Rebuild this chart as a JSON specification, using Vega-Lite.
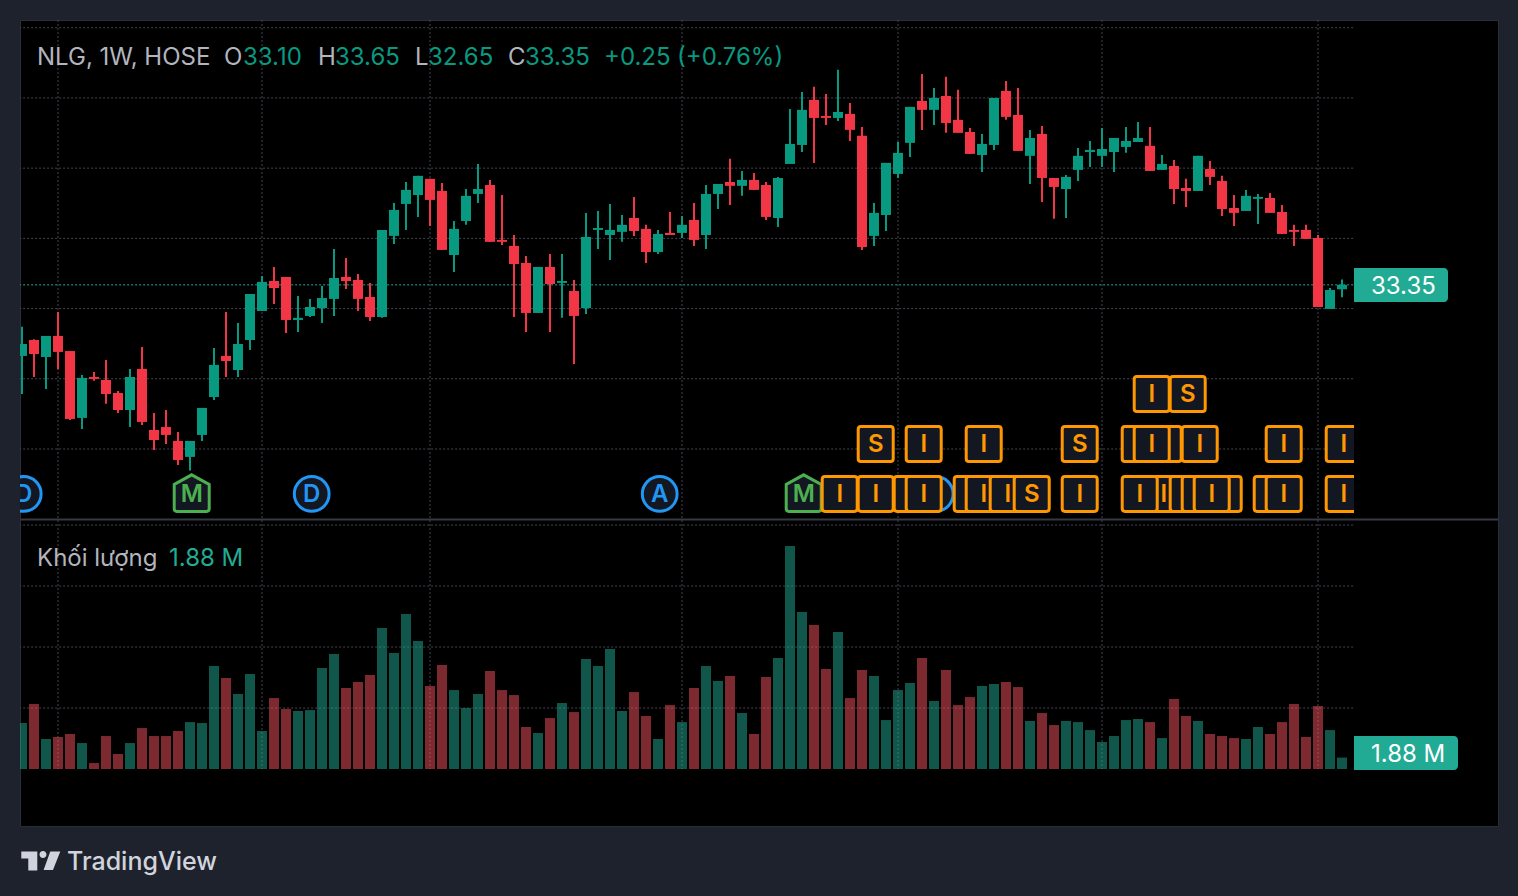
{
"$schema":"https://vega.github.io/schema/vega-lite/v6.json",
"width":1478,"height":806,
"autosize":"none",
"padding":{"left":20,"top":20,"right":20,"bottom":70},
"background":"#1e222d",
"view":{"fill":"#000000","stroke":"#2a2e39"},
"config":{"font":"Inter","text":{"font":"Inter"},"axis":{"labelFont":"Inter"}},
"datasets":{
"weeks":[
{"date":"2022-12-12","o":29.30,"h":30.97,"l":27.13,"c":29.98,"v":7.54},
{"date":"2022-12-19","o":30.21,"h":30.25,"l":28.10,"c":29.41,"v":10.66},
{"date":"2022-12-26","o":29.24,"h":30.44,"l":27.42,"c":30.44,"v":4.92},
{"date":"2023-01-02","o":30.44,"h":31.81,"l":28.54,"c":29.53,"v":5.25},
{"date":"2023-01-09","o":29.58,"h":29.58,"l":25.65,"c":25.71,"v":5.74},
{"date":"2023-01-16","o":25.77,"h":28.22,"l":25.14,"c":28.05,"v":4.26},
{"date":"2023-01-23","o":28.10,"h":28.39,"l":27.88,"c":27.99,"v":0.98},
{"date":"2023-01-30","o":27.93,"h":29.07,"l":26.57,"c":27.13,"v":5.41},
{"date":"2023-02-06","o":27.19,"h":27.30,"l":26.05,"c":26.22,"v":2.46},
{"date":"2023-02-13","o":26.22,"h":28.56,"l":25.25,"c":28.10,"v":4.26},
{"date":"2023-02-20","o":28.56,"h":29.81,"l":25.37,"c":25.54,"v":6.72},
{"date":"2023-02-27","o":25.08,"h":26.05,"l":23.94,"c":24.51,"v":5.41},
{"date":"2023-03-06","o":25.25,"h":26.22,"l":24.29,"c":24.80,"v":5.41},
{"date":"2023-03-13","o":24.46,"h":24.97,"l":23.09,"c":23.37,"v":6.23},
{"date":"2023-03-20","o":23.55,"h":24.46,"l":22.77,"c":24.46,"v":7.70},
{"date":"2023-03-27","o":24.80,"h":26.34,"l":24.46,"c":26.34,"v":7.54},
{"date":"2023-04-03","o":26.96,"h":29.75,"l":26.79,"c":28.79,"v":16.89},
{"date":"2023-04-10","o":29.30,"h":31.81,"l":28.10,"c":29.01,"v":14.92},
{"date":"2023-04-17","o":28.50,"h":31.18,"l":28.10,"c":29.98,"v":12.30},
{"date":"2023-04-24","o":30.21,"h":32.83,"l":29.64,"c":32.83,"v":15.57},
{"date":"2023-05-01","o":31.86,"h":33.86,"l":31.86,"c":33.52,"v":6.23},
{"date":"2023-05-08","o":33.57,"h":34.37,"l":32.26,"c":33.17,"v":11.64},
{"date":"2023-05-15","o":33.80,"h":33.80,"l":30.61,"c":31.35,"v":9.84},
{"date":"2023-05-22","o":31.35,"h":32.72,"l":30.67,"c":31.47,"v":9.51},
{"date":"2023-05-29","o":31.58,"h":32.55,"l":31.52,"c":32.09,"v":9.67},
{"date":"2023-06-05","o":32.03,"h":33.29,"l":31.18,"c":32.60,"v":16.56},
{"date":"2023-06-12","o":32.55,"h":35.40,"l":31.58,"c":33.74,"v":18.85},
{"date":"2023-06-19","o":33.80,"h":34.88,"l":33.12,"c":33.57,"v":13.28},
{"date":"2023-06-26","o":33.63,"h":33.97,"l":31.86,"c":32.55,"v":14.26},
{"date":"2023-07-03","o":32.66,"h":33.46,"l":31.29,"c":31.52,"v":15.41},
{"date":"2023-07-10","o":31.52,"h":36.48,"l":31.47,"c":36.48,"v":23.11},
{"date":"2023-07-17","o":36.14,"h":38.01,"l":35.68,"c":37.62,"v":19.02},
{"date":"2023-07-24","o":37.96,"h":39.21,"l":36.48,"c":38.76,"v":25.41},
{"date":"2023-07-31","o":38.47,"h":39.56,"l":37.22,"c":39.56,"v":20.98},
{"date":"2023-08-07","o":39.39,"h":39.39,"l":36.71,"c":38.19,"v":13.61},
{"date":"2023-08-14","o":38.70,"h":39.16,"l":35.34,"c":35.34,"v":17.05},
{"date":"2023-08-21","o":35.05,"h":36.99,"l":34.09,"c":36.54,"v":12.95},
{"date":"2023-08-28","o":36.99,"h":38.81,"l":36.77,"c":38.42,"v":10.00},
{"date":"2023-09-04","o":38.53,"h":40.24,"l":38.01,"c":38.81,"v":12.30},
{"date":"2023-09-11","o":39.04,"h":39.33,"l":35.80,"c":35.80,"v":16.07},
{"date":"2023-09-18","o":35.91,"h":38.47,"l":35.62,"c":35.80,"v":12.95},
{"date":"2023-09-25","o":35.57,"h":36.19,"l":31.52,"c":34.54,"v":12.13},
{"date":"2023-10-02","o":34.60,"h":35.00,"l":30.67,"c":31.75,"v":6.89},
{"date":"2023-10-09","o":31.75,"h":34.37,"l":31.75,"c":34.37,"v":5.90},
{"date":"2023-10-16","o":34.37,"h":35.11,"l":30.67,"c":33.40,"v":8.36},
{"date":"2023-10-23","o":33.46,"h":35.11,"l":31.47,"c":33.57,"v":10.82},
{"date":"2023-10-30","o":33.00,"h":33.63,"l":28.84,"c":31.58,"v":9.34},
{"date":"2023-11-06","o":32.03,"h":37.45,"l":31.69,"c":36.08,"v":18.03},
{"date":"2023-11-13","o":36.48,"h":37.56,"l":35.40,"c":36.59,"v":16.89},
{"date":"2023-11-20","o":36.19,"h":37.96,"l":34.77,"c":36.48,"v":19.67},
{"date":"2023-11-27","o":36.37,"h":37.33,"l":35.80,"c":36.77,"v":9.51},
{"date":"2023-12-04","o":37.16,"h":38.36,"l":36.14,"c":36.42,"v":12.62},
{"date":"2023-12-11","o":36.54,"h":36.77,"l":34.60,"c":35.22,"v":8.69},
{"date":"2023-12-18","o":35.22,"h":36.48,"l":35.11,"c":36.25,"v":4.92},
{"date":"2023-12-25","o":36.31,"h":37.50,"l":36.19,"c":36.19,"v":10.49},
{"date":"2024-01-01","o":36.31,"h":37.28,"l":36.02,"c":36.77,"v":7.70},
{"date":"2024-01-08","o":37.05,"h":38.01,"l":35.57,"c":35.91,"v":13.28},
{"date":"2024-01-15","o":36.19,"h":39.04,"l":35.40,"c":38.53,"v":16.89},
{"date":"2024-01-22","o":38.53,"h":39.10,"l":37.67,"c":39.10,"v":14.43},
{"date":"2024-01-29","o":39.21,"h":40.53,"l":37.90,"c":38.99,"v":15.25},
{"date":"2024-02-05","o":38.99,"h":39.84,"l":38.42,"c":39.33,"v":9.18},
{"date":"2024-02-12","o":39.33,"h":39.73,"l":38.76,"c":38.76,"v":5.74},
{"date":"2024-02-19","o":39.04,"h":39.21,"l":37.05,"c":37.22,"v":15.08},
{"date":"2024-02-26","o":37.16,"h":39.50,"l":36.65,"c":39.44,"v":18.20},
{"date":"2024-03-04","o":40.24,"h":43.37,"l":40.24,"c":41.38,"v":36.56},
{"date":"2024-03-11","o":41.32,"h":44.34,"l":40.92,"c":43.32,"v":25.74},
{"date":"2024-03-18","o":43.89,"h":44.63,"l":40.30,"c":42.86,"v":23.61},
{"date":"2024-03-25","o":42.97,"h":44.23,"l":42.46,"c":42.86,"v":16.39},
{"date":"2024-04-01","o":42.86,"h":45.60,"l":42.69,"c":43.20,"v":22.46},
{"date":"2024-04-08","o":43.09,"h":43.71,"l":41.55,"c":42.18,"v":11.64},
{"date":"2024-04-15","o":41.84,"h":42.35,"l":35.34,"c":35.51,"v":16.23},
{"date":"2024-04-22","o":36.14,"h":38.01,"l":35.57,"c":37.45,"v":15.25},
{"date":"2024-04-29","o":37.33,"h":40.30,"l":36.42,"c":40.30,"v":8.03},
{"date":"2024-05-06","o":39.67,"h":41.49,"l":39.44,"c":40.87,"v":12.95},
{"date":"2024-05-13","o":41.44,"h":43.49,"l":40.64,"c":43.49,"v":14.10},
{"date":"2024-05-20","o":43.83,"h":45.37,"l":42.18,"c":43.32,"v":18.20},
{"date":"2024-05-27","o":43.32,"h":44.57,"l":42.46,"c":44.00,"v":11.15},
{"date":"2024-06-03","o":44.11,"h":45.20,"l":42.01,"c":42.57,"v":16.23},
{"date":"2024-06-10","o":42.75,"h":44.46,"l":42.01,"c":42.01,"v":10.49},
{"date":"2024-06-17","o":42.06,"h":42.29,"l":40.81,"c":40.81,"v":11.80},
{"date":"2024-06-24","o":40.75,"h":41.95,"l":39.78,"c":41.38,"v":13.61},
{"date":"2024-07-01","o":41.32,"h":44.00,"l":41.04,"c":44.00,"v":13.93},
{"date":"2024-07-08","o":44.40,"h":44.97,"l":42.75,"c":42.92,"v":14.26},
{"date":"2024-07-15","o":43.03,"h":44.57,"l":40.98,"c":40.98,"v":13.44},
{"date":"2024-07-22","o":40.70,"h":42.18,"l":39.10,"c":41.72,"v":7.87},
{"date":"2024-07-29","o":41.95,"h":42.40,"l":38.07,"c":39.44,"v":9.18},
{"date":"2024-08-05","o":39.44,"h":39.44,"l":37.11,"c":38.93,"v":7.21},
{"date":"2024-08-12","o":38.81,"h":39.61,"l":37.16,"c":39.50,"v":7.87},
{"date":"2024-08-19","o":39.90,"h":41.15,"l":39.27,"c":40.70,"v":7.70},
{"date":"2024-08-26","o":40.92,"h":41.55,"l":40.07,"c":41.04,"v":6.39},
{"date":"2024-09-02","o":40.70,"h":42.29,"l":40.07,"c":41.09,"v":4.43},
{"date":"2024-09-09","o":40.92,"h":41.72,"l":39.78,"c":41.72,"v":5.41},
{"date":"2024-09-16","o":41.21,"h":42.35,"l":40.87,"c":41.55,"v":8.03},
{"date":"2024-09-23","o":41.49,"h":42.63,"l":41.49,"c":41.72,"v":8.20},
{"date":"2024-09-30","o":41.27,"h":42.35,"l":39.84,"c":39.84,"v":7.70},
{"date":"2024-10-07","o":39.90,"h":40.75,"l":39.90,"c":40.24,"v":5.08},
{"date":"2024-10-14","o":40.12,"h":40.47,"l":37.96,"c":38.81,"v":11.48},
{"date":"2024-10-21","o":38.87,"h":39.39,"l":37.79,"c":38.70,"v":8.69},
{"date":"2024-10-28","o":38.70,"h":40.70,"l":38.70,"c":40.70,"v":7.87},
{"date":"2024-11-04","o":39.95,"h":40.41,"l":39.04,"c":39.50,"v":5.74},
{"date":"2024-11-11","o":39.27,"h":39.56,"l":37.28,"c":37.67,"v":5.41},
{"date":"2024-11-18","o":37.73,"h":38.47,"l":36.71,"c":37.45,"v":5.08},
{"date":"2024-11-25","o":37.56,"h":38.76,"l":37.56,"c":38.42,"v":4.92},
{"date":"2024-12-02","o":38.25,"h":38.53,"l":36.82,"c":38.36,"v":6.89},
{"date":"2024-12-09","o":38.30,"h":38.59,"l":37.45,"c":37.45,"v":5.74},
{"date":"2024-12-16","o":37.50,"h":37.90,"l":36.25,"c":36.25,"v":7.70},
{"date":"2024-12-23","o":36.48,"h":36.77,"l":35.57,"c":36.37,"v":10.66},
{"date":"2024-12-30","o":36.48,"h":36.77,"l":35.97,"c":35.97,"v":5.25},
{"date":"2025-01-06","o":36.02,"h":36.19,"l":32.09,"c":32.09,"v":10.33},
{"date":"2025-01-13","o":31.98,"h":33.17,"l":31.98,"c":33.06,"v":6.39},
{"date":"2025-01-20","o":33.10,"h":33.65,"l":32.65,"c":33.35,"v":1.88}
],
"events":[
{"date":"2022-12-13","level":21.44,"label":"D","front":true},
{"date":"2023-03-21","level":21.44,"label":"M","front":true},
{"date":"2023-05-30","level":21.44,"label":"D","front":true},
{"date":"2023-12-19","level":21.44,"label":"A","front":true},
{"date":"2024-03-12","level":21.44,"label":"M","front":true},
{"date":"2024-05-28","level":21.44,"label":"D","front":false},
{"date":"2024-04-02","level":21.44,"label":"I","front":true},
{"date":"2024-04-23","level":21.44,"label":"I","front":true},
{"date":"2024-05-14","level":21.44,"label":"I","front":false},
{"date":"2024-05-21","level":21.44,"label":"I","front":true},
{"date":"2024-06-18","level":21.44,"label":"I","front":false},
{"date":"2024-06-25","level":21.44,"label":"I","front":true},
{"date":"2024-07-09","level":21.44,"label":"I","front":true},
{"date":"2024-07-23","level":21.44,"label":"S","front":true},
{"date":"2024-08-20","level":21.44,"label":"I","front":true},
{"date":"2024-10-08","level":21.44,"label":"I","front":true},
{"date":"2024-09-24","level":21.44,"label":"I","front":true},
{"date":"2024-10-22","level":21.44,"label":"I","front":false},
{"date":"2024-11-12","level":21.44,"label":"I","front":false},
{"date":"2024-10-29","level":21.44,"label":"I","front":false},
{"date":"2024-11-05","level":21.44,"label":"I","front":true},
{"date":"2024-12-10","level":21.44,"label":"I","front":false},
{"date":"2024-12-17","level":21.44,"label":"I","front":true},
{"date":"2025-01-21","level":21.44,"label":"I","front":true},
{"date":"2024-04-23","level":24.28,"label":"S","front":true},
{"date":"2024-05-21","level":24.28,"label":"I","front":true},
{"date":"2024-06-25","level":24.28,"label":"I","front":true},
{"date":"2024-08-20","level":24.28,"label":"S","front":true},
{"date":"2024-09-24","level":24.28,"label":"I","front":false},
{"date":"2024-10-08","level":24.28,"label":"I","front":false},
{"date":"2024-10-01","level":24.28,"label":"I","front":true},
{"date":"2024-10-29","level":24.28,"label":"I","front":true},
{"date":"2024-12-17","level":24.28,"label":"I","front":true},
{"date":"2025-01-21","level":24.28,"label":"I","front":true},
{"date":"2024-10-01","level":27.13,"label":"I","front":true},
{"date":"2024-10-22","level":27.13,"label":"S","front":true}
],
"notes":[
{"date":"2022-12-20T18:00:00Z","level":46.39,"text":"NLG, 1W, HOSE","tone":"muted"},
{"date":"2023-04-08T20:00:00Z","level":46.39,"text":"O","tone":"muted"},
{"date":"2023-04-19T22:00:00Z","level":46.39,"text":"33.10","tone":"up"},
{"date":"2023-06-02T16:00:00Z","level":46.39,"text":"H","tone":"muted"},
{"date":"2023-06-12T14:00:00Z","level":46.39,"text":"33.65","tone":"up"},
{"date":"2023-07-29T06:00:00Z","level":46.39,"text":"L","tone":"muted"},
{"date":"2023-08-05T20:00:00Z","level":46.39,"text":"32.65","tone":"up"},
{"date":"2023-09-21T12:00:00Z","level":46.39,"text":"C","tone":"muted"},
{"date":"2023-10-01T10:00:00Z","level":46.39,"text":"33.35","tone":"up"},
{"date":"2023-11-16T12:00:00Z","level":46.39,"text":"+0.25","tone":"up"},
{"date":"2023-12-29T02:00:00Z","level":46.39,"text":"(+0.76%)","tone":"up"},
{"date":"2022-12-20T18:00:00Z","level":17.85,"text":"Khối lượng","tone":"muted"},
{"date":"2023-03-07T18:00:00Z","level":17.85,"text":"1.88 M","tone":"vol"}
],
"priceTicks":[{"price":24},{"price":28},{"price":32},{"price":36},{"price":40},{"price":44},{"price":48}],
"volumeTicks":[{"vol":10},{"vol":20},{"vol":30},{"vol":40}],
"timeTicks":[{"date":"2023-01-02"},{"date":"2023-05-01"},{"date":"2023-08-07"},{"date":"2024-01-01"},{"date":"2024-05-06"},{"date":"2024-09-02"},{"date":"2025-01-06"}],
"last":[{"price":33.35,"vol":1.88,"priceText":"33.35","volText":"1.88 M"}]
},
"resolve":{"scale":{"y":"independent"}},
"layer":[
{"layer":[
 {"data":{"name":"priceTicks"},"mark":{"type":"rule","clip":true,"color":"#434651","strokeWidth":1,"strokeDash":[2,2]},
  "encoding":{
   "x":{"datum":{"year":2022,"month":12,"date":1,"utc":true},"type":"temporal","axis":null},
   "x2":{"datum":{"year":2025,"month":1,"date":27,"utc":true}},
   "y":{"field":"price","type":"quantitative","scale":{"domain":[2.52,48.44],"nice":false,"zero":false},
    "axis":{"orient":"right","offset":-144,"values":[24,28,32,36,40,44,48],"format":".2f","title":null,"domain":true,"domainOpacity":0,"ticks":true,"tickOpacity":0,"tickSize":0,"grid":false,"labelPadding":16,"labelAlign":"left","labelBaseline":"middle","labelOffset":2,"labelColor":"#b2b5be","labelFontSize":24,"labelBound":false,"labelFlush":false,"labelOverlap":false}}}},
 {"data":{"name":"timeTicks"},"mark":{"type":"rule","color":"#434651","strokeWidth":1,"strokeDash":[2,2]},
  "encoding":{
   "x":{"field":"date","type":"temporal","scale":{"type":"utc","domain":["2022-12-10T20:00:00Z","2025-04-21T00:00:00Z"],"nice":false,"padding":0},
    "axis":{"orient":"bottom","title":null,"values":["2023-01-02","2023-05-01","2023-08-07","2024-01-01","2024-05-06","2024-09-02","2025-01-06"],"labelExpr":"utcmonth(datum.value)==0?utcyear(datum.value)+'':'Tháng '+(utcmonth(datum.value)+1)","domain":true,"domainOpacity":0,"ticks":true,"tickOpacity":0,"tickSize":0,"grid":false,"labelPadding":-26,"labelBaseline":"middle","labelAlign":"center","labelColor":"#b2b5be","labelFontSize":24,"labelFontWeight":{"condition":{"test":"utcmonth(datum.value)==0","value":700},"value":400},"labelBound":false,"labelFlush":false,"labelOverlap":false}},
   "y":{"datum":48.44},"y2":{"datum":5.77}}},
 {"data":{"name":"last"},"mark":{"type":"rule","clip":true,"color":"#22ab94","strokeWidth":1,"strokeDash":[2,2]},
  "encoding":{
   "x":{"datum":{"year":2022,"month":12,"date":1,"utc":true},"type":"temporal","axis":null},
   "x2":{"datum":{"year":2025,"month":1,"date":27,"utc":true}},
   "y":{"field":"price","type":"quantitative","axis":null}}},
 {"data":{"name":"weeks"},"mark":{"type":"rule","clip":true,"strokeWidth":2},
  "encoding":{
   "x":{"field":"date","type":"temporal","axis":null},
   "y":{"field":"h","type":"quantitative","axis":null},"y2":{"field":"l"},
   "color":{"condition":{"test":"datum.c>=datum.o","value":"#089981"},"value":"#f23645"}}},
 {"data":{"name":"weeks"},"mark":{"type":"bar","clip":true,"size":10},
  "encoding":{
   "x":{"field":"date","type":"temporal","axis":null},
   "y":{"field":"o","type":"quantitative","axis":null},"y2":{"field":"c"},
   "color":{"condition":{"test":"datum.c>=datum.o","value":"#089981"},"value":"#f23645"}}},
 {"data":{"name":"events"},"transform":[{"filter":"datum.label=='D'||datum.label=='A'"}],
  "mark":{"type":"point","shape":"circle","clip":true,"filled":true,"fill":"#131722","stroke":"#2196f3","strokeWidth":3,"size":1210,"opacity":1},
  "encoding":{"x":{"field":"date","type":"temporal","axis":null},"y":{"field":"level","type":"quantitative","axis":null}}},
 {"data":{"name":"events"},"transform":[{"filter":"datum.label=='M'"}],
  "mark":{"type":"point","shape":"M0,-1.09L1,-0.54V0.85Q1,1 0.85,1H-0.85Q-1,1 -1,0.85V-0.54Z","clip":true,"filled":true,"fill":"#131722","stroke":"#4caf50","strokeWidth":3,"size":1225,"opacity":1},
  "encoding":{"x":{"field":"date","type":"temporal","axis":null},"y":{"field":"level","type":"quantitative","axis":null}}},
 {"data":{"name":"events"},"transform":[{"filter":"datum.label=='I'||datum.label=='S'"}],
  "mark":{"type":"point","shape":"M-0.84,-1H0.84Q1,-1 1,-0.84V0.84Q1,1 0.84,1H-0.84Q-1,1 -1,0.84V-0.84Q-1,-1 -0.84,-1Z","clip":true,"filled":true,"fill":"#131722","stroke":"#ff9800","strokeWidth":3,"size":1225,"opacity":1},
  "encoding":{"x":{"field":"date","type":"temporal","axis":null},"y":{"field":"level","type":"quantitative","axis":null}}},
 {"data":{"name":"events"},"transform":[{"filter":"datum.front"}],
  "mark":{"type":"text","clip":true,"fontSize":24,"fontWeight":600,"baseline":"middle","align":"center","dy":1},
  "encoding":{"x":{"field":"date","type":"temporal","axis":null},"y":{"field":"level","type":"quantitative","axis":null},"text":{"field":"label"},
   "color":{"condition":[{"test":"datum.label=='I'||datum.label=='S'","value":"#ff9800"},{"test":"datum.label=='M'","value":"#4caf50"}],"value":"#2196f3"}}}
]},
{"layer":[
 {"data":{"name":"volumeTicks"},"mark":{"type":"rule","clip":true,"color":"#434651","strokeWidth":1,"strokeDash":[2,2]},
  "encoding":{
   "x":{"datum":{"year":2022,"month":12,"date":1,"utc":true},"type":"temporal","axis":null},
   "x2":{"datum":{"year":2025,"month":1,"date":27,"utc":true}},
   "y":{"field":"vol","type":"quantitative","scale":{"domain":[-9.34,122.8],"nice":false,"zero":false},
    "axis":{"orient":"right","offset":-144,"values":[10,20,30,40],"labelExpr":"datum.value+'\u2009M'","title":null,"domain":true,"domainOpacity":0,"ticks":true,"tickOpacity":0,"tickSize":0,"grid":false,"labelPadding":16,"labelAlign":"left","labelBaseline":"middle","labelOffset":2,"labelColor":"#b2b5be","labelFontSize":24,"labelBound":false,"labelFlush":false,"labelOverlap":false}}}},
 {"data":{"name":"weeks"},"mark":{"type":"bar","clip":true,"size":10,"opacity":0.5},
  "encoding":{
   "x":{"field":"date","type":"temporal","axis":null},
   "y":{"field":"v","type":"quantitative","stack":null,"axis":null},
   "color":{"condition":{"test":"datum.c>=datum.o","value":"#22ab94"},"value":"#f7525f"}}}
]},
{"layer":[
 {"data":{"values":[{"area":"price edge"}]},"mark":{"type":"rect","color":"#000000"},
  "encoding":{
   "x":{"datum":{"year":2025,"month":1,"date":27,"utc":true},"type":"temporal","axis":null},"x2":{"datum":{"year":2025,"month":2,"date":4,"hours":18,"utc":true}},
   "y":{"datum":48.3,"type":"quantitative","scale":{"domain":[2.52,48.44],"nice":false,"zero":false},"axis":null},"y2":{"datum":20}}},
 {"data":{"values":[{"area":"pane edge"}]},"mark":{"type":"rect","color":"#000000"},
  "encoding":{
   "x":{"datum":{"year":2025,"month":1,"date":27,"utc":true},"type":"temporal","axis":null},"x2":{"datum":{"year":2025,"month":4,"date":20,"utc":true}},
   "y":{"datum":20.7,"type":"quantitative","axis":null},"y2":{"datum":19.98}}},
 {"data":{"values":[{"area":"above frame"}]},"mark":{"type":"rect","color":"#1e222d"},
  "encoding":{
   "x":{"datum":{"year":2025,"month":1,"date":27,"utc":true},"type":"temporal","axis":null},"x2":{"datum":{"year":2025,"month":4,"date":20,"utc":true}},
   "y":{"datum":49.6,"type":"quantitative","axis":null},"y2":{"datum":48.47}}},
 {"data":{"values":[{"area":"separator"}]},"mark":{"type":"rule","color":"#363a45","strokeWidth":2},
  "encoding":{
   "x":{"datum":{"year":2022,"month":12,"date":11,"utc":true},"type":"temporal","axis":null},"x2":{"datum":{"year":2025,"month":4,"date":21,"utc":true}},
   "y":{"datum":19.98,"type":"quantitative","axis":null}}},
 {"data":{"name":"last"},"mark":{"type":"rect","color":"#22ab94","cornerRadiusTopRight":4,"cornerRadiusBottomRight":4},
  "encoding":{
   "x":{"datum":{"year":2025,"month":1,"date":27,"utc":true},"type":"temporal","axis":null},"x2":{"datum":{"year":2025,"month":3,"date":22,"hours":20,"utc":true}},
   "y":{"datum":34.31,"type":"quantitative","axis":null},"y2":{"datum":32.38}}},
 {"data":{"name":"last"},"mark":{"type":"text","color":"#ffffff","fontSize":24,"align":"left","baseline":"middle","dy":2},
  "encoding":{
   "x":{"datum":{"year":2025,"month":2,"date":5,"hours":22,"utc":true},"type":"temporal","axis":null},
   "y":{"field":"price","type":"quantitative","axis":null},"text":{"field":"priceText"}}},
 {"data":{"name":"last"},"mark":{"type":"rect","color":"#22ab94","cornerRadiusTopRight":4,"cornerRadiusBottomRight":4},
  "encoding":{
   "x":{"datum":{"year":2025,"month":1,"date":27,"utc":true},"type":"temporal","axis":null},"x2":{"datum":{"year":2025,"month":3,"date":28,"hours":16,"utc":true}},
   "y":{"datum":7.65,"type":"quantitative","axis":null},"y2":{"datum":5.71}}},
 {"data":{"name":"last"},"mark":{"type":"text","color":"#ffffff","fontSize":24,"align":"left","baseline":"middle","dy":2},
  "encoding":{
   "x":{"datum":{"year":2025,"month":2,"date":5,"hours":22,"utc":true},"type":"temporal","axis":null},
   "y":{"datum":6.68,"type":"quantitative","axis":null},"text":{"field":"volText"}}},
 {"data":{"name":"notes"},"mark":{"type":"text","fontSize":24,"align":"left","baseline":"middle","dy":2},
  "encoding":{
   "x":{"field":"date","type":"temporal","axis":null},
   "y":{"field":"level","type":"quantitative","axis":null},"text":{"field":"text"},
   "color":{"condition":[{"test":"datum.tone=='up'","value":"#089981"},{"test":"datum.tone=='vol'","value":"#22ab94"}],"value":"#b2b5be"}}},
 {"data":{"values":[{"date":"2023-01-07T06:00:00Z","level":0.52,"text":"TradingView"}]},"mark":{"type":"text","fontSize":25,"fontWeight":500,"align":"left","baseline":"middle","dy":1,"color":"#d1d4dc"},
  "encoding":{
   "x":{"field":"date","type":"temporal","axis":null},
   "y":{"field":"level","type":"quantitative","axis":null},"text":{"field":"text"}}},
 {"data":{"values":[{"date":"2022-12-22T23:00:00Z","level":0.52,"name":"TradingView logo"}]},
  "mark":{"type":"point","shape":"M-0.975,-0.475H-0.175V0.475H-0.625V-0.125H-0.975ZM-0.065,-0.325A0.175,0.175 0 1,0 0.285,-0.325A0.175,0.175 0 1,0 -0.065,-0.325ZM0.475,-0.475H0.975L0.61,0.45H0.14Z","filled":true,"fill":"#d1d4dc","strokeWidth":0,"size":1600,"opacity":1},
  "encoding":{"x":{"field":"date","type":"temporal","axis":null},"y":{"field":"level","type":"quantitative","axis":null}}}
]}
]
}
